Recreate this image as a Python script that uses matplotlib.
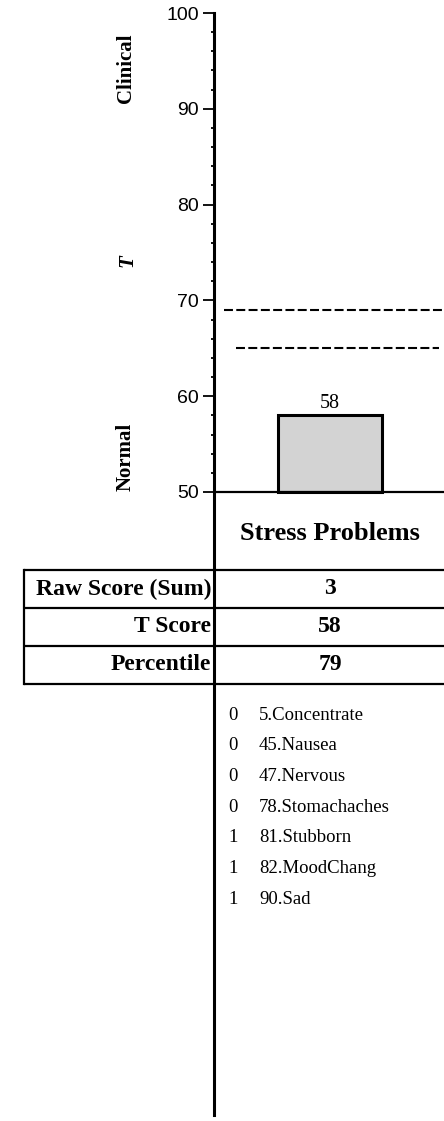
import matplotlib
matplotlib.use('Agg')
import matplotlib.pyplot as plt
from matplotlib.ticker import FixedLocator

# data
scale_name = 'Stress Problems'
t_score = 58
borderline_low = 65
borderline_high = 69
major_ticks = [50, 60, 70, 80, 90, 100]
minor_ticks = [v for v in range(50, 101, 2) if v % 10 != 0]
row_labels = ['Raw Score (Sum)', 'T Score', 'Percentile']
row_values = ['3', '58', '79']
item_scores = [0, 0, 0, 0, 1, 1, 1]
item_names = ['5.Concentrate', '45.Nausea', '47.Nervous', '78.Stomachaches',
              '81.Stubborn', '82.MoodChang', '90.Sad']

W, H = 444, 1121
serif = 'Liberation Serif'
sans = 'Liberation Sans'

fig = plt.figure(figsize=(W / 100, H / 100), dpi=100)

# overlay in pixel coords for labels and table
ov = fig.add_axes([0, 0, 1, 1])
ov.set_xlim(0, W)
ov.set_ylim(H, 0)
ov.axis('off')

# main axis: 100 at y=13px, 50 at y=492px, spine runs down to 1115px
ppu = (492 - 13) / 50.0
ax = fig.add_axes([214 / W, 1 - 1115 / H, 232 / W, (1115 - 13) / H])
ax.patch.set_visible(False)
ax.set_xlim(0, 1)
ax.set_ylim(50 - (1115 - 492) / ppu, 100)

ax.bar(0.5, t_score - 50, bottom=50, width=0.45, color='#d3d3d3',
       edgecolor='black', linewidth=2.2, zorder=3)
ax.text(0.5, t_score + 0.2, str(t_score), ha='center', va='bottom',
        family=serif, fontsize=14.5)
ax.axhline(50, color='black', lw=1.6, zorder=4)
ax.hlines(borderline_high, 0.043, 1.0, colors='black', lw=1.5,
          linestyles=(0, (4.3, 1.6)))
ax.hlines(borderline_low, 0.096, 0.97, colors='black', lw=1.5,
          linestyles=(0, (4.3, 1.6)))

for s in ['top', 'right', 'bottom']:
    ax.spines[s].set_visible(False)
ax.spines['left'].set_linewidth(2.2)
ax.set_xticks([])
ax.set_yticks(major_ticks)
ax.yaxis.set_minor_locator(FixedLocator(minor_ticks))
ax.tick_params(axis='y', which='major', length=8, width=1.3, labelsize=14, pad=3)
ax.tick_params(axis='y', which='minor', length=2.5, width=1.3)
for lab in ax.get_yticklabels():
    lab.set_family(sans)

ov.text(126, 68, 'Clinical', rotation=90, ha='center', va='center',
        family=serif, fontweight='bold', fontsize=15)
ov.text(127, 261, 'T', rotation=90, ha='center', va='center',
        family=serif, fontweight='bold', fontstyle='italic', fontsize=15)
ov.text(126, 457, 'Normal', rotation=90, ha='center', va='center',
        family=serif, fontweight='bold', fontsize=15)

ov.text(330, 533, scale_name, ha='center', va='center',
        family=serif, fontweight='bold', fontsize=19)

# table
row_top = 570
row_h = 38
for i in range(len(row_labels) + 1):
    y = row_top + i * row_h
    ov.plot([24, W], [y, y], color='black', lw=1.6, solid_capstyle='butt')
ov.plot([24, 24], [row_top, row_top + row_h * len(row_labels)], color='black', lw=1.6)
for i, (lab, val) in enumerate(zip(row_labels, row_values)):
    yc = row_top + (i + 0.5) * row_h
    ov.text(211, yc, lab, ha='right', va='center', family=serif,
            fontweight='bold', fontsize=17)
    ov.text(330, yc, val, ha='center', va='center', family=serif,
            fontweight='bold', fontsize=17)

# items
for i, (sc, nm) in enumerate(zip(item_scores, item_names)):
    yc = 715 + i * 30.7
    ov.text(233, yc, str(sc), ha='center', va='center', family=serif, fontsize=13.5)
    ov.text(259, yc, nm, ha='left', va='center', family=serif, fontsize=13.5)

fig.savefig('out.png', dpi=100)
